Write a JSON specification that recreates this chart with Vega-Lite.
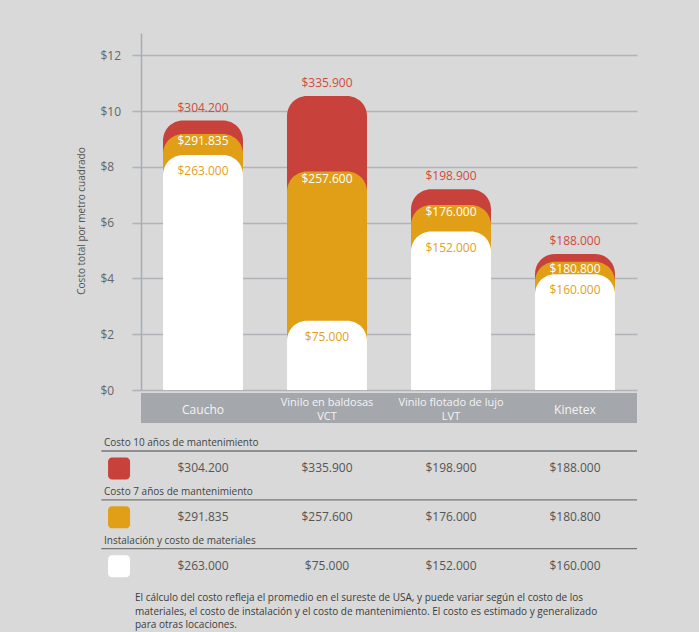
{
  "$schema": "https://vega.github.io/schema/vega-lite/v6.json",
  "background": "#d8d9d8",
  "padding": {"left": 76, "top": 33, "right": 70, "bottom": 10},
  "spacing": 61,
  "bounds": "flush",
  "datasets": {
    "bars": [
      {"floor": "Caucho", "serie": "10 años", "value": 9.66, "label": "$304.200"},
      {"floor": "Vinilo en baldosas|VCT", "serie": "10 años", "value": 10.54, "label": "$335.900"},
      {"floor": "Vinilo flotado de lujo|LVT", "serie": "10 años", "value": 7.2, "label": "$198.900"},
      {"floor": "Kinetex", "serie": "10 años", "value": 4.88, "label": "$188.000"},
      {"floor": "Caucho", "serie": "7 años", "value": 9.18, "label": "$291.835"},
      {"floor": "Vinilo en baldosas|VCT", "serie": "7 años", "value": 7.83, "label": "$257.600"},
      {"floor": "Vinilo flotado de lujo|LVT", "serie": "7 años", "value": 6.63, "label": "$176.000"},
      {"floor": "Kinetex", "serie": "7 años", "value": 4.6, "label": "$180.800"},
      {"floor": "Caucho", "serie": "Instalación", "value": 8.43, "label": "$263.000"},
      {"floor": "Vinilo en baldosas|VCT", "serie": "Instalación", "value": 2.48, "label": "$75.000"},
      {"floor": "Vinilo flotado de lujo|LVT", "serie": "Instalación", "value": 5.68, "label": "$152.000"},
      {"floor": "Kinetex", "serie": "Instalación", "value": 4.15, "label": "$160.000"}
    ],
    "series": [
      {"serie": "10 años", "header": "Costo 10 años de mantenimiento"},
      {"serie": "7 años", "header": "Costo 7 años de mantenimiento"},
      {"serie": "Instalación", "header": "Instalación y costo de materiales"}
    ]
  },
  "vconcat": [
    {
      "width": 496,
      "height": 357,
      "data": {"name": "bars"},
      "layer": [
        {
          "mark": {"type": "rule", "strokeWidth": 30, "strokeCap": "butt", "color": "#a4a7ac"},
          "encoding": {
            "y": {"datum": -0.645, "type": "quantitative"}
          }
        },
        {
          "mark": {"type": "bar", "cornerRadiusTopLeft": 20, "cornerRadiusTopRight": 20},
          "encoding": {
            "x": {
              "field": "floor",
              "type": "nominal",
              "sort": ["Caucho", "Vinilo en baldosas|VCT", "Vinilo flotado de lujo|LVT", "Kinetex"],
              "scale": {
                "type": "band",
                "paddingInner": 0.355,
                "paddingOuter": 0.1775,
                "domain": ["Caucho", "Vinilo en baldosas|VCT", "Vinilo flotado de lujo|LVT", "Kinetex"]
              },
              "axis": {
                "orient": "bottom",
                "zindex": 1,
                "domain": false,
                "ticks": false,
                "tickSize": 0,
                "grid": false,
                "labelAngle": 0,
                "labelColor": "#f4f4f4",
                "labelFontSize": {"condition": {"test": "indexof(datum.label, '|') >= 0", "value": 11}, "value": 12},
                "labelBaseline": "middle",
                "labelPadding": {"condition": {"test": "indexof(datum.label, '|') >= 0", "value": 12}, "value": 19},
                "labelLineHeight": 14,
                "labelExpr": "indexof(datum.label, '|') >= 0 ? split(datum.label, '|') : datum.label",
                "title": null
              }
            },
            "y": {
              "field": "value",
              "type": "quantitative",
              "stack": null,
              "scale": {"domain": [0, 12.8], "nice": false, "zero": true},
              "axis": {
                "values": [0, 1, 2, 3, 4, 5, 6, 7, 8, 9, 10, 11, 12],
                "labelExpr": "datum.value % 2 === 0 ? '$' + datum.value : ''",
                "grid": true,
                "gridColor": {"condition": {"test": "datum.value % 2 === 0", "value": "#b0b3b8"}, "value": "#c8cacd"},
                "gridWidth": {"condition": {"test": "datum.value % 2 === 0", "value": 1.6}, "value": 1},
                "tickColor": {"condition": {"test": "datum.value % 2 === 0", "value": "#b0b3b8"}, "value": "#c8cacd"},
                "tickWidth": {"condition": {"test": "datum.value % 2 === 0", "value": 1.6}, "value": 1},
                "tickSize": 9,
                "domainColor": "#a9adb3",
                "domainWidth": 1.5,
                "labelAlign": "left",
                "labelBaseline": "middle",
                "labelPadding": 32,
                "labelColor": "#666666",
                "labelFontSize": 12,
                "title": "Costo total por metro cuadrado",
                "titleFontSize": 10,
                "titleFontWeight": "normal",
                "titleColor": "#555555",
                "titleAngle": 270,
                "titleX": -59.5,
                "titleY": 187.5,
                "titleAlign": "center",
                "titleBaseline": "middle"
              }
            },
            "color": {
              "field": "serie",
              "type": "nominal",
              "scale": {"domain": ["10 años", "7 años", "Instalación"], "range": ["#c8413a", "#e09f17", "#ffffff"]},
              "legend": null
            }
          }
        },
        {
          "transform": [{"filter": "datum.serie === '10 años'"}],
          "mark": {"type": "text", "dy": -13, "baseline": "middle", "fontSize": 12, "color": "#d24a3f"},
          "encoding": {
            "x": {"field": "floor", "type": "nominal", "sort": ["Caucho", "Vinilo en baldosas|VCT", "Vinilo flotado de lujo|LVT", "Kinetex"]},
            "y": {"field": "value", "type": "quantitative"},
            "text": {"field": "label"}
          }
        },
        {
          "transform": [{"filter": "datum.serie === '7 años'"}],
          "mark": {"type": "text", "dy": 7, "baseline": "middle", "fontSize": 12, "color": "#ffffff"},
          "encoding": {
            "x": {"field": "floor", "type": "nominal", "sort": ["Caucho", "Vinilo en baldosas|VCT", "Vinilo flotado de lujo|LVT", "Kinetex"]},
            "y": {"field": "value", "type": "quantitative"},
            "text": {"field": "label"}
          }
        },
        {
          "transform": [{"filter": "datum.serie === 'Instalación'"}],
          "mark": {"type": "text", "dy": 16, "baseline": "middle", "fontSize": 12, "color": "#e3a020"},
          "encoding": {
            "x": {"field": "floor", "type": "nominal", "sort": ["Caucho", "Vinilo en baldosas|VCT", "Vinilo flotado de lujo|LVT", "Kinetex"]},
            "y": {"field": "value", "type": "quantitative"},
            "text": {"field": "label"}
          }
        }
      ]
    },
    {
      "width": 496,
      "height": 146.4,
      "title": {
        "text": [
          "El cálculo del costo refleja el promedio en el sureste de USA, y puede variar según el costo de los",
          "materiales, el costo de instalación y el costo de mantenimiento. El costo es estimado y generalizado",
          "para otras locaciones."
        ],
        "orient": "bottom",
        "anchor": "start",
        "frame": "group",
        "fontSize": 10,
        "fontWeight": "normal",
        "color": "#3c3c3c",
        "lineHeight": 13.5,
        "baseline": "middle",
        "offset": 1,
        "dx": -6
      },
      "layer": [
        {
          "data": {"name": "series"},
          "mark": {"type": "rule", "color": "#777777", "strokeWidth": 1.3},
          "encoding": {
            "x": {
              "datum": "Caucho",
              "type": "nominal",
              "bandPosition": -0.32,
              "scale": {"type": "band", "paddingInner": 0, "paddingOuter": 0, "domain": ["Caucho", "Vinilo en baldosas|VCT", "Vinilo flotado de lujo|LVT", "Kinetex"]},
              "axis": null
            },
            "x2": {"datum": "Kinetex", "bandPosition": 1},
            "y": {
              "field": "serie",
              "type": "nominal",
              "bandPosition": 0,
              "sort": ["10 años", "7 años", "Instalación"],
              "scale": {"type": "band", "paddingInner": 0, "paddingOuter": 0, "domain": ["10 años", "7 años", "Instalación"]},
              "axis": null
            }
          }
        },
        {
          "data": {"name": "series"},
          "mark": {"type": "text", "align": "left", "baseline": "middle", "dx": -37, "dy": -8, "fontSize": 10, "color": "#444444"},
          "encoding": {
            "x": {"datum": "Caucho", "type": "nominal", "bandPosition": 0},
            "y": {"field": "serie", "type": "nominal", "bandPosition": 0},
            "text": {"field": "header"}
          }
        },
        {
          "data": {"name": "series"},
          "mark": {
            "type": "point",
            "shape": "M -0.64 -1 L 0.64 -1 A 0.36 0.36 0 0 1 1 -0.64 L 1 0.64 A 0.36 0.36 0 0 1 0.64 1 L -0.64 1 A 0.36 0.36 0 0 1 -1 0.64 L -1 -0.64 A 0.36 0.36 0 0 1 -0.64 -1 Z",
            "size": 484,
            "filled": true,
            "opacity": 1,
            "strokeWidth": 0
          },
          "encoding": {
            "x": {"datum": "Caucho", "type": "nominal", "bandPosition": -0.177},
            "y": {"field": "serie", "type": "nominal", "bandPosition": 0.36},
            "color": {"field": "serie", "type": "nominal", "legend": null}
          }
        },
        {
          "data": {"name": "bars"},
          "mark": {"type": "text", "baseline": "middle", "dy": 17, "fontSize": 12, "color": "#555555"},
          "encoding": {
            "x": {"field": "floor", "type": "nominal"},
            "y": {"field": "serie", "type": "nominal", "bandPosition": 0},
            "text": {"field": "label"}
          }
        }
      ]
    }
  ],
  "config": {
    "font": "Open Sans",
    "view": {"stroke": null}
  }
}
